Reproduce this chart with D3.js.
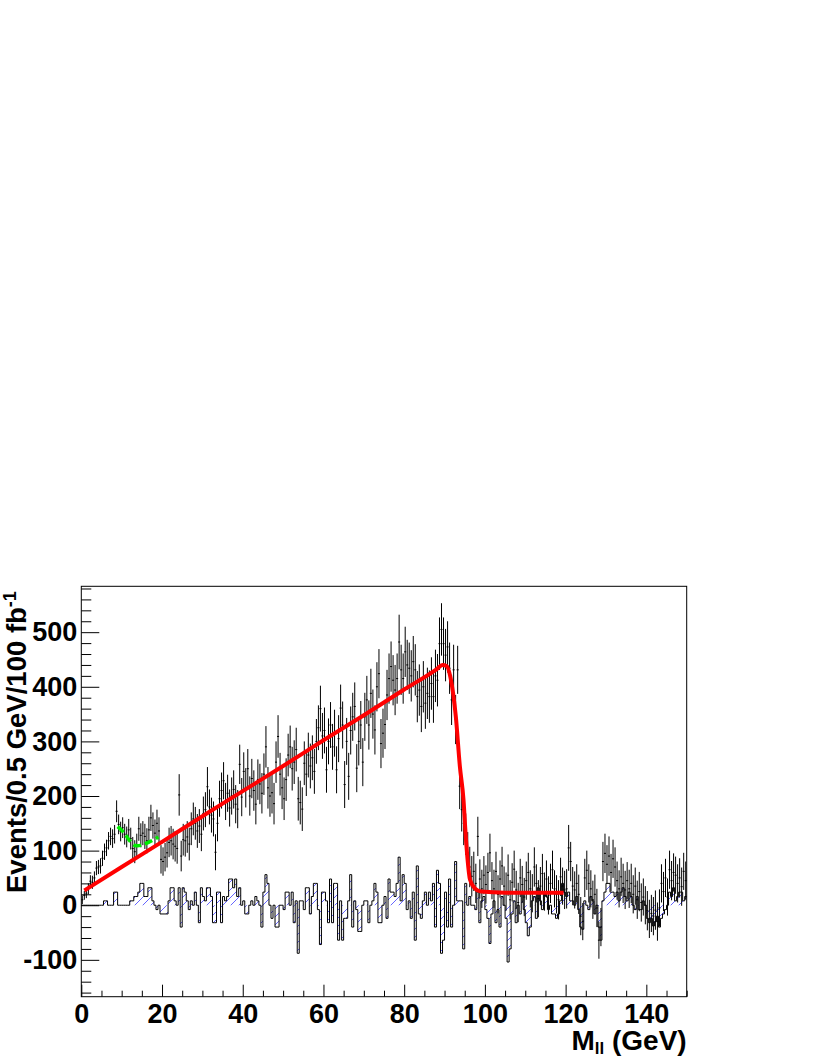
<!DOCTYPE html>
<html>
<head>
<meta charset="utf-8">
<script src="https://cdn.jsdelivr.net/npm/d3@7"></script>
<style>
  body { margin: 0; background: #fff; }
  svg { display: block; }
</style>
</head>
<body>
<div id="chart"></div>
<script>
// 300 bins of 0.5 GeV between 0 and 150 GeV
const binWidth = 0.5;

// data points (events per bin)
const dataVals = [
  10,18,22,30,44,42,50,68,70,72,
  86,98,105,118,126,122,130,172,148,135,
  142,130,125,138,122,104,98,110,140,128,
  132,126,118,138,160,146,132,150,136,84,
  80,88,96,115,118,112,108,104,202,90,
  120,118,125,112,140,158,150,136,145,130,
  168,175,217,180,165,158,97,150,195,210,
  228,190,205,178,200,212,185,176,258,198,
  245,215,250,200,232,210,185,230,222,205,
  240,290,215,200,206,186,262,309,240,215,
  195,230,275,290,250,262,285,195,188,176,
  260,240,275,255,270,245,300,325,360,310,
  320,248,300,330,290,315,248,305,361,330,
  221,300,236,320,345,364,251,300,330,262,
  345,376,330,388,350,321,400,424,296,315,
  331,385,415,437,412,394,415,482,431,415,
  464,440,434,420,446,431,382,394,364,400,
  370,388,382,406,382,420,412,479,505,479,
  458,473,434,376,431,340,431,218,175,150,
  130,96,70,53,62,40,126,48,30,55,
  38,60,96,45,30,62,20,48,72,35,
  25,55,10,42,66,28,5,50,38,15,
  45,60,30,22,70,40,12,35,58,25,
  48,18,40,65,30,20,10,52,35,28,
  30,105,80,35,28,40,20,-20,-30,50,
  64,40,30,10,20,-5,-64,-40,80,95,
  75,90,60,85,70,45,30,52,40,28,
  45,30,40,20,35,10,25,5,15,0,
  -10,-25,-15,-20,-9,-30,-5,40,25,50,
  15,65,45,60,55,40,50,34,62,45
];

// half-length of the vertical error bars
const dataErrs = [
  8,8,9,10,11,12,12,13,13,14,
  14,15,15,16,16,17,17,20,18,18,
  19,19,19,20,20,21,21,21,22,22,
  22,23,23,24,24,24,25,25,25,26,
  26,26,27,27,27,28,28,28,38,28,
  29,29,29,30,30,30,30,31,31,31,
  31,32,36,32,32,32,33,33,33,33,
  34,34,34,34,34,35,35,35,36,35,
  35,36,36,36,36,37,37,37,37,37,
  38,38,38,38,38,38,38,39,39,39,
  39,39,39,39,40,40,40,40,40,40,
  40,40,41,41,41,41,41,41,42,42,
  42,42,42,42,42,43,43,43,43,43,
  43,43,43,44,44,44,44,44,44,44,
  44,44,45,45,45,45,45,45,45,45,
  45,46,46,46,46,46,46,50,46,46,
  46,46,47,47,47,47,47,47,47,47,
  47,47,48,48,48,48,48,48,48,48,
  48,47,47,46,46,45,44,42,40,40,
  38,38,37,37,36,36,36,36,35,35,
  35,36,35,34,35,36,35,34,35,36,
  35,38,36,35,34,35,36,35,34,35,
  35,36,34,35,36,35,34,35,36,35,
  34,35,36,35,34,35,36,35,34,35,
  36,42,36,35,34,35,36,35,34,35,
  36,35,34,35,36,35,34,35,36,36,
  35,36,34,35,36,35,34,35,36,35,
  34,35,36,35,34,35,36,35,34,35,
  36,35,34,35,36,35,34,35,36,35,
  34,35,36,35,34,35,36,35,34,35
];

// lower hatched histogram
const diffVals = [
  0,0,0,0,0,0,0,0,0,0,
  0,8,8,0,0,0,24,24,0,0,
  0,0,0,0,8,8,16,16,24,40,
  40,16,16,32,32,8,0,-8,0,-16,
  -16,-16,-16,8,32,32,8,0,32,-40,
  32,24,8,-8,8,0,24,0,-32,32,
  16,8,32,32,16,-32,-32,24,24,-32,
  16,8,16,48,48,32,48,16,32,0,
  8,-16,-16,0,8,0,16,8,0,-40,
  24,56,40,0,-24,0,-40,-40,0,0,
  -8,24,24,0,24,-32,8,-88,8,8,
  -8,32,32,-16,16,40,40,-8,-72,24,
  24,8,-32,48,-32,40,40,-64,8,-64,
  -24,-24,8,56,-40,8,-8,-48,-48,0,
  8,8,-32,0,8,40,24,-32,-32,0,
  16,-24,48,24,24,16,40,88,8,56,
  40,-8,8,-24,24,-64,72,-16,-24,8,
  24,0,24,8,40,-40,64,40,-88,-64,
  24,-40,48,-40,0,80,8,8,8,-80,
  40,0,16,0,0,-8,24,-32,8,16,
  -8,-24,-70,-16,8,-32,-8,-40,16,0,
  -24,-104,-80,-16,8,-32,0,-16,24,-8,
  -32,-56,-40,8,16,-24,32,8,-8,24,
  16,-8,0,-16,-16,-24,-16,8,40,24,
  16,24,8,8,0,16,-8,-40,-44,8,
  0,-8,16,8,-16,0,-40,-64,8,24,
  40,40,24,24,16,24,8,24,32,16,
  8,24,16,0,-8,16,-8,-8,8,0,
  -24,-32,-24,-38,-30,-20,-40,-24,-16,-8,
  0,24,16,32,8,16,24,24,8,16
];

// red fit curve
const fitX = [0.75, 10, 20, 30, 40, 50, 60, 70, 80, 88, 89.5, 90.5, 91.5, 92.8, 93.8, 94.7, 95.2, 95.7, 96.3, 97.5, 99, 105, 119.5];
const fitY = [27, 70, 116, 163, 209, 255, 302, 348, 395, 432, 440, 438, 416, 345, 254, 193, 133, 84, 47, 31, 25, 23, 23];

// green dashed bump
const bumpX = [9.0, 10.7, 11.9, 13.5, 16.0, 19.1];
const bumpY = [144, 132, 119, 109, 113, 125];

const xMajorTicks = [0, 20, 40, 60, 80, 100, 120, 140];
const yMajorTicks = [-100, 0, 100, 200, 300, 400, 500];

const W = 817, H = 1058;
const margin = {top: 586.3, right: 130.3, bottom: 61.3, left: 81.3};
const FONT = '"Liberation Sans", Arial, Helvetica, sans-serif';

const svg = d3.select("#chart").append("svg")
    .attr("width", W)
    .attr("height", H);

const x = d3.scaleLinear().domain([0, 150]).range([margin.left, W - margin.right]);
const y = d3.scaleLinear().domain([-167.5, 584]).range([H - margin.bottom, margin.top]);

// hatch pattern for the lower histogram
const defs = svg.append("defs");
const pat = defs.append("pattern")
    .attr("id", "hatch")
    .attr("patternUnits", "userSpaceOnUse")
    .attr("width", 8)
    .attr("height", 8);
pat.append("path")
    .attr("d", "M-1,1 l2,-2 M0,8 l8,-8 M7,9 l2,-2")
    .attr("stroke", "#3f3fff")
    .attr("stroke-width", 0.8);

// lower histogram
const histPts = diffVals.map((v, i) => [i * binWidth, v])
    .concat([[diffVals.length * binWidth, diffVals[diffVals.length - 1]]]);

svg.append("path")
    .datum(histPts)
    .attr("fill", "url(#hatch)")
    .attr("d", d3.area().curve(d3.curveStepAfter)
        .x(d => x(d[0]))
        .y0(y(0))
        .y1(d => y(d[1])));

svg.append("path")
    .datum(histPts)
    .attr("fill", "none")
    .attr("stroke", "#000")
    .attr("stroke-width", 1)
    .attr("d", d3.line().curve(d3.curveStepAfter)
        .x(d => x(d[0]))
        .y(d => y(d[1])));

// data points with error bars
const pts = dataVals.map((v, i) => ({lo: i * binWidth, hi: (i + 1) * binWidth, v: v, e: dataErrs[i]}));
const gPts = svg.append("g").attr("stroke", "#000").attr("stroke-width", 1);
gPts.selectAll("line.ey").data(pts).enter().append("line")
    .attr("class", "ey")
    .attr("x1", d => x((d.lo + d.hi) / 2))
    .attr("x2", d => x((d.lo + d.hi) / 2))
    .attr("y1", d => y(d.v - d.e))
    .attr("y2", d => y(d.v + d.e));
gPts.selectAll("line.ex").data(pts).enter().append("line")
    .attr("class", "ex")
    .attr("x1", d => x(d.lo))
    .attr("x2", d => x(d.hi))
    .attr("y1", d => y(d.v))
    .attr("y2", d => y(d.v));

// fit curve
svg.append("path")
    .datum(fitX.map((d, i) => [d, fitY[i]]))
    .attr("fill", "none")
    .attr("stroke", "#ff0000")
    .attr("stroke-width", 4)
    .attr("stroke-linejoin", "round")
    .attr("d", d3.line().curve(d3.curveMonotoneX)
        .x(d => x(d[0]))
        .y(d => y(d[1])));

// green dashed curve
svg.append("path")
    .datum(bumpX.map((d, i) => [d, bumpY[i]]))
    .attr("fill", "none")
    .attr("stroke", "#00ee00")
    .attr("stroke-width", 3.5)
    .attr("stroke-dasharray", "8,4")
    .attr("d", d3.line().curve(d3.curveCatmullRom)
        .x(d => x(d[0]))
        .y(d => y(d[1])));

// axes
function styleAxis(g) {
  g.select(".domain").remove();
  g.attr("font-family", FONT).attr("font-weight", "bold").attr("font-size", 27);
  g.selectAll("line").attr("stroke", "#000").attr("stroke-width", 1);
  g.selectAll("text").attr("fill", "#000");
}

const xMinor = d3.range(0, 151, 5).filter(t => xMajorTicks.indexOf(t) < 0);
const yMinor = d3.range(-160, 581, 20).filter(t => yMajorTicks.indexOf(t) < 0);

svg.append("g")
    .attr("transform", `translate(0,${H - margin.bottom})`)
    .call(d3.axisBottom(x).tickValues(xMinor).tickSize(-6).tickFormat(""))
    .call(styleAxis);
svg.append("g")
    .attr("transform", `translate(0,${H - margin.bottom})`)
    .call(d3.axisBottom(x).tickValues(xMajorTicks).tickSize(-12).tickPadding(7).tickFormat(d => String(d)))
    .call(styleAxis);

svg.append("g")
    .attr("transform", `translate(${margin.left},0)`)
    .call(d3.axisLeft(y).tickValues(yMinor).tickSize(-10).tickFormat(""))
    .call(styleAxis);
svg.append("g")
    .attr("transform", `translate(${margin.left},0)`)
    .call(d3.axisLeft(y).tickValues(yMajorTicks).tickSize(-18).tickPadding(4).tickFormat(d => String(d)))
    .call(styleAxis);

// frame
svg.append("rect")
    .attr("x", margin.left)
    .attr("y", margin.top)
    .attr("width", W - margin.left - margin.right)
    .attr("height", H - margin.top - margin.bottom)
    .attr("fill", "none")
    .attr("stroke", "#000")
    .attr("stroke-width", 1);

// axis titles
const yTitle = svg.append("text")
    .attr("transform", "translate(26,893) rotate(-90)")
    .attr("font-family", FONT)
    .attr("font-weight", "bold")
    .attr("font-size", 27.5)
    .attr("fill", "#000");
yTitle.append("tspan").text("Events/0.5 GeV/100 fb");
yTitle.append("tspan").attr("font-size", 18).attr("dy", -10).text("-1");

const xTitle = svg.append("text")
    .attr("x", W - margin.right)
    .attr("y", 1050)
    .attr("text-anchor", "end")
    .attr("font-family", FONT)
    .attr("font-weight", "bold")
    .attr("font-size", 28)
    .attr("fill", "#000");
xTitle.append("tspan").text("M");
xTitle.append("tspan").attr("font-size", 17).attr("dy", 4).text("ll");
xTitle.append("tspan").attr("dy", -4).text(" (GeV)");
</script>
</body>
</html>
